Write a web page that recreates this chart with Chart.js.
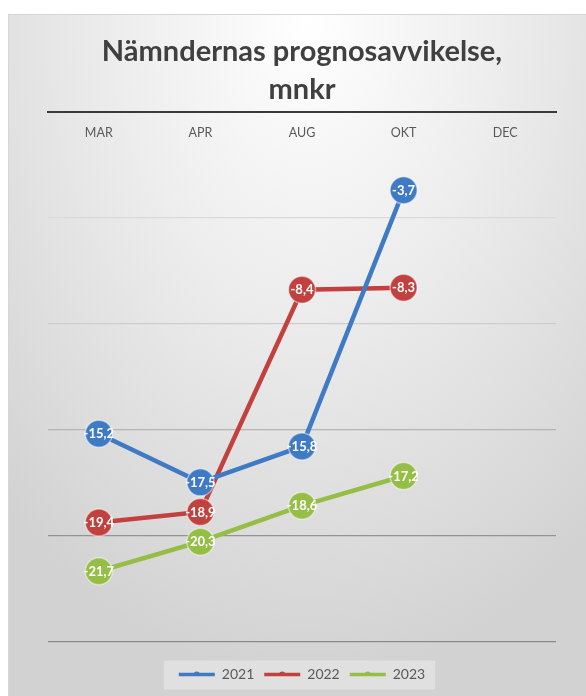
<!DOCTYPE html>
<html><head><meta charset="utf-8">
<script src="https://cdn.jsdelivr.net/npm/chart.js@4"></script>
<style>
html,body{margin:0;padding:0;background:#fff;width:586px;height:696px;overflow:hidden;}
#frame{position:absolute;left:8px;top:14px;width:600px;height:700px;border:1px solid #d6d6d6;box-sizing:border-box;
background: radial-gradient(ellipse 75% 95% at 50% 0%, #ffffff 0%, #ececec 45%, #d2d2d2 100%);}
#c{position:absolute;left:0;top:0;width:586px;height:696px;}
</style></head><body>
<div id="frame"></div>
<canvas id="c" width="586" height="696"></canvas>
<script>
const categories = ['MAR', 'APR', 'AUG', 'OKT', 'DEC'];
const seriesNames = ['2021', '2022', '2023'];
const values2021 = [-15.2, -17.5, -15.8, -3.7, null];
const values2022 = [-19.4, -18.9, -8.4, -8.3, null];
const values2023 = [-21.7, -20.3, -18.6, -17.2, null];
const yMin = -25, yMax = 0, yStep = 5;
const titleLines = ['Nämndernas prognosavvikelse,', 'mnkr'];

const colors = ['#3F7BC4', '#C2403E', '#96BE47'];
const gridColors = {'-5': '#d9d9d9', '-10': '#cdcdcd', '-15': '#b4b4b4', '-20': '#939393', '-25': '#8a8a8a', '0': 'rgba(0,0,0,0)'};

const xLabelsPlugin = {
  id: 'xLabels',
  afterDraw(chart) {
    const ctx = chart.ctx, xs = chart.scales.x;
    ctx.save();
    ctx.font = '12.5px Lato';
    ctx.fillStyle = '#595959';
    ctx.textAlign = 'center';
    ctx.textBaseline = 'middle';
    categories.forEach((c, i) => ctx.fillText(c, xs.getPixelForValue(i), chart.chartArea.top + 21));
    ctx.restore();
  }
};

const dataLabelsPlugin = {
  id: 'dataLabels',
  afterDatasetsDraw(chart) {
    const ctx = chart.ctx;
    ctx.save();
    ctx.font = 'bold 13px Lato';
    ctx.fillStyle = '#ffffff';
    ctx.textAlign = 'center';
    ctx.textBaseline = 'middle';
    chart.data.datasets.forEach((ds, di) => {
      const meta = chart.getDatasetMeta(di);
      meta.data.forEach((pt, i) => {
        const v = ds.data[i];
        if (v === null || v === undefined) return;
        ctx.fillText(v.toFixed(1).replace('.', ','), pt.x, pt.y + 0.5);
      });
    });
    ctx.restore();
  }
};

const legendBgPlugin = {
  id: 'legendBg',
  beforeDraw(chart) {
    const lg = chart.legend;
    if (!lg || !lg.legendHitBoxes || !lg.legendHitBoxes.length) return;
    const boxes = lg.legendHitBoxes;
    const left = Math.min(...boxes.map(b => b.left)) - 15;
    const right = Math.max(...boxes.map(b => b.left + b.width)) + 10;
    const cy = boxes[0].top + boxes[0].height / 2;
    const ctx = chart.ctx;
    ctx.save();
    ctx.fillStyle = 'rgba(235,235,235,0.55)';
    ctx.fillRect(left, cy - 14, right - left, 29);
    ctx.restore();
  },
  afterDraw(chart) {
    const lg = chart.legend;
    if (!lg || !lg.legendHitBoxes) return;
    const ctx = chart.ctx;
    ctx.save();
    lg.legendHitBoxes.forEach((b, i) => {
      const cx = b.left + 18, cy = b.top + b.height / 2;
      ctx.fillStyle = colors[i];
      ctx.beginPath();
      ctx.arc(cx, cy, 3, Math.PI, 0);
      ctx.fill();
    });
    ctx.restore();
  }
};

const mk = (name, data, color) => ({
  label: name,
  data: data,
  borderColor: color,
  backgroundColor: color,
  borderWidth: 4.5,
  pointRadius: 13.5,
  pointHoverRadius: 13.5,
  pointBackgroundColor: color,
  pointBorderColor: 'rgba(255,255,255,0.45)',
  pointBorderWidth: 1.5,
  tension: 0,
  spanGaps: false
});

new Chart(document.getElementById('c'), {
  type: 'line',
  data: {
    labels: categories,
    datasets: [
      mk(seriesNames[0], values2021, colors[0]),
      mk(seriesNames[1], values2022, colors[1]),
      mk(seriesNames[2], values2023, colors[2])
    ]
  },
  options: {
    responsive: false,
    maintainAspectRatio: false,
    animation: false,
    devicePixelRatio: 1,
    layout: {padding: {left: 48, right: 30, top: 0, bottom: 4.5}},
    plugins: {
      tooltip: {enabled: false},
      title: {
        display: true,
        text: titleLines,
        color: '#404040',
        font: {family: 'Lato', size: 29, weight: 'bold', lineHeight: 1.3},
        padding: {top: 33, bottom: 3.6}
      },
      legend: {
        display: true,
        position: 'bottom',
        title: {display: true, text: '', font: {size: 12, lineHeight: 1.2}, padding: {top: 0, bottom: 2}},
        labels: {
          boxWidth: 36,
          boxHeight: 3.5,
          padding: 10,
          color: '#595959',
          font: {family: 'Lato', size: 14},
          generateLabels(chart) {
            return chart.data.datasets.map((ds, i) => ({
              text: ds.label,
              fillStyle: ds.borderColor,
              strokeStyle: ds.borderColor,
              lineWidth: 0,
              fontColor: '#595959',
              datasetIndex: i,
              hidden: false
            }));
          }
        }
      }
    },
    scales: {
      x: {
        type: 'category',
        position: 'top',
        offset: true,
        grid: {display: false, drawTicks: false},
        border: {display: true, color: '#3a3a3a', width: 2},
        ticks: {display: false}
      },
      y: {
        min: yMin,
        max: yMax,
        ticks: {display: false, stepSize: yStep},
        border: {display: false},
        grid: {
          drawTicks: false,
          lineWidth: 1.2,
          color: (c) => gridColors[String(c.tick ? c.tick.value : 0)] || '#cccccc'
        }
      }
    }
  },
  plugins: [legendBgPlugin, xLabelsPlugin, dataLabelsPlugin]
});
</script>
</body></html>
